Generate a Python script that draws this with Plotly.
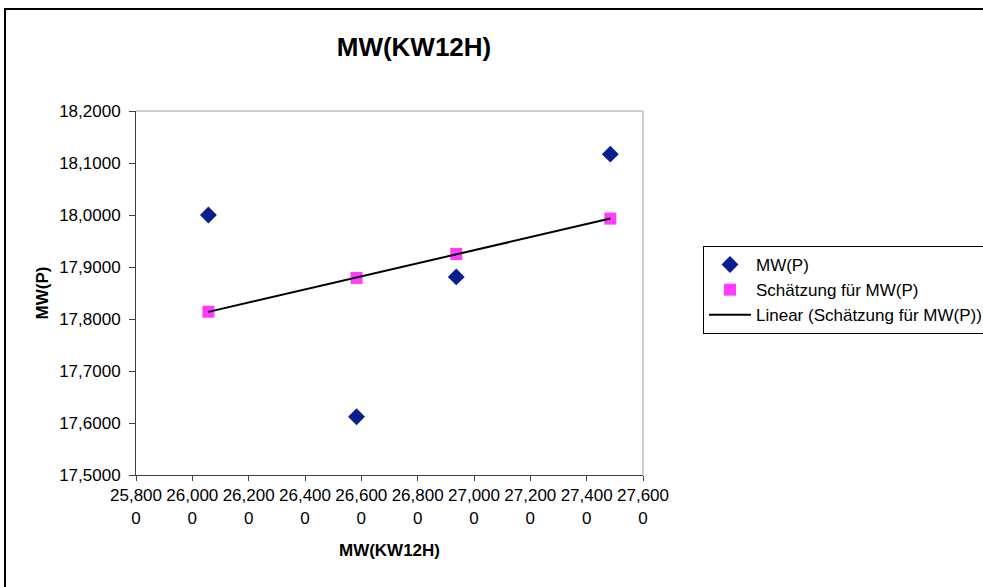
import numpy as np
import plotly.graph_objects as go

# Data
x_vals = [26.057, 26.583, 26.937, 27.484]
mw_p = [18.000, 17.612, 17.881, 18.117]
schaetzung = [17.814, 17.879, 17.925, 17.993]

x_ticks = [25.8, 26.0, 26.2, 26.4, 26.6, 26.8, 27.0, 27.2, 27.4, 27.6]
x_ticktext = ["25,800<br>0", "26,000<br>0", "26,200<br>0", "26,400<br>0", "26,600<br>0",
              "26,800<br>0", "27,000<br>0", "27,200<br>0", "27,400<br>0", "27,600<br>0"]
y_ticks = [17.5, 17.6, 17.7, 17.8, 17.9, 18.0, 18.1, 18.2]
y_ticktext = ["17,5000", "17,6000", "17,7000", "17,8000", "17,9000", "18,0000", "18,1000", "18,2000"]

# linear trendline of the estimate series
slope, intercept = np.polyfit(x_vals, schaetzung, 1)
trend_x = [min(x_vals), max(x_vals)]
trend_y = [slope * v + intercept for v in trend_x]

FONT = "Liberation Sans, Arial, sans-serif"

fig = go.Figure()
fig.add_trace(go.Scatter(x=x_vals, y=mw_p, mode="markers", name="MW(P)",
                         marker=dict(symbol="diamond", size=13, color="#0A1E8C",
                                     line=dict(width=0))))
fig.add_trace(go.Scatter(x=x_vals, y=schaetzung, mode="markers", name="Schätzung für MW(P)",
                         marker=dict(symbol="square", size=12, color="#FF3CFF",
                                     line=dict(width=0))))
fig.add_trace(go.Scatter(x=trend_x, y=trend_y, mode="lines",
                         name="Linear (Schätzung für MW(P))",
                         line=dict(color="black", width=2)))

L, R, T, B = 136, 340, 111, 112
W, H = 983, 587
pw = W - L - R
ph = H - T - B

def px_x(p):
    return (p - L) / pw

def px_y(p):
    return (H - B - p) / ph

fig.update_layout(
    width=W, height=H,
    margin=dict(l=L, r=R, t=T, b=B, pad=0, autoexpand=False),
    paper_bgcolor="white", plot_bgcolor="white",
    font=dict(family=FONT, size=17, color="black"),
    title=dict(text="<b>MW(KW12H)</b>", x=414 / W, xanchor="center",
               y=1 - 47 / H, yanchor="middle", yref="container",
               font=dict(size=26, family=FONT, color="black")),
    showlegend=True,
    legend=dict(xref="container", yref="container",
                x=703 / W, y=1 - 246 / H, xanchor="left", yanchor="top",
                bordercolor="black", borderwidth=1, bgcolor="white",
                font=dict(size=17, family=FONT, color="black"),
                itemwidth=42, tracegroupgap=0),
    xaxis=dict(range=[25.8, 27.6], tickvals=x_ticks, ticktext=x_ticktext,
               showgrid=False, zeroline=False, showline=True, linecolor="#404040",
               linewidth=1, ticks="outside", ticklen=5, tickcolor="#404040",
               tickfont=dict(size=17, family=FONT),
               title=dict(text="<b>MW(KW12H)</b>", font=dict(size=17, family=FONT),
                          standoff=17)),
    yaxis=dict(range=[17.5, 18.2], tickvals=y_ticks, ticktext=y_ticktext,
               showgrid=False, zeroline=False, showline=True, linecolor="#404040",
               linewidth=1, ticks="outside", ticklen=6, tickcolor="#404040",
               tickfont=dict(size=17, family=FONT), ticklabelstandoff=5,
               title=dict(text="<b>MW(P)</b>", font=dict(size=17, family=FONT),
                          standoff=6)),
    shapes=[
        # grey plot-area border (top and right)
        dict(type="line", xref="paper", yref="paper", x0=0, x1=1, y0=1, y1=1,
             line=dict(color="#A0A0A0", width=1)),
        dict(type="line", xref="paper", yref="paper", x0=1, x1=1, y0=0, y1=1,
             line=dict(color="#A0A0A0", width=1)),
        # outer chart frame
        dict(type="rect", xref="paper", yref="paper",
             x0=px_x(5), x1=px_x(1100), y0=px_y(9), y1=px_y(700),
             line=dict(color="black", width=2), layer="below"),
    ],
)

fig.write_html("out.html")
